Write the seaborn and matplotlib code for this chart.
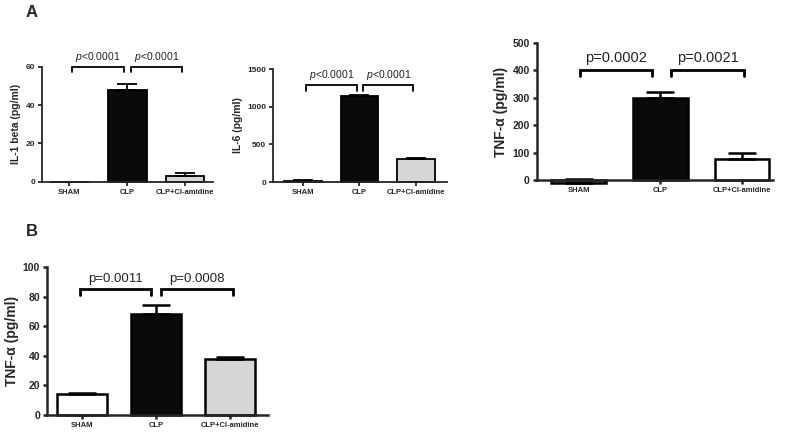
import numpy as np
import seaborn as sns
import matplotlib.pyplot as plt

# groups and values (mean + SEM)
groups = ["SHAM", "CLP", "CLP+Cl-amidine"]

il1_mean = [0, 48, 3]
il1_sem = [0, 3, 1.7]

il6_mean = [20, 1140, 305]
il6_sem = [10, 12, 15]

tnf_a_mean = [-12, 300, 78]
tnf_a_sem = [14, 22, 19]

tnf_b_mean = [14, 68, 38]
tnf_b_sem = [1, 6, 1]

p_il1 = ["<0.0001", "<0.0001"]
p_il6 = ["<0.0001", "<0.0001"]
p_tnf_a = ["p=0.0002", "p=0.0021"]
p_tnf_b = ["p=0.0011", "p=0.0008"]

sns.set_style("ticks")
plt.rcParams['font.family'] = ['Liberation Sans', 'DejaVu Sans']
plt.rcParams['mathtext.fontset'] = 'custom'
plt.rcParams['mathtext.it'] = 'Liberation Sans:italic'
plt.rcParams['mathtext.rm'] = 'Liberation Sans'

fig = plt.figure(figsize=(7.87, 4.37), dpi=100)


def panel(rect, mean, sem, colors, ylim, yticks, xlim, ylabel, lw, tick_fs, xtick_fs, lab_fs, cap):
    ax = fig.add_axes(rect)
    sns.barplot(x=groups, y=mean, hue=groups, palette=colors, legend=False,
                errorbar=None, edgecolor="black", linewidth=lw, width=0.67, ax=ax)
    for p in ax.patches:
        p.set_clip_on(False)
    ax.errorbar(range(3), mean, yerr=[np.zeros(3), sem], fmt="none", ecolor="black",
                elinewidth=lw, capsize=cap, capthick=lw, clip_on=False)
    ax.set_ylim(ylim)
    ax.set_yticks(yticks)
    ax.set_xlim(xlim)
    ax.set_ylabel(ylabel, fontsize=lab_fs, fontweight="bold", labelpad=3)
    ax.set_xlabel("")
    sns.despine(ax=ax)
    for s in ["left", "bottom"]:
        ax.spines[s].set_linewidth(lw)
    ax.tick_params(axis="both", width=lw, length=3, pad=2)
    ax.tick_params(axis="y", labelsize=tick_fs)
    ax.tick_params(axis="x", labelsize=xtick_fs)
    for t in ax.get_xticklabels() + ax.get_yticklabels():
        t.set_fontweight("bold")
    return ax


def bracket(ax, x1, x2, ytop, ytip, text, ytext, fs, lw, color="#222222"):
    ax.plot([x1, x1, x2, x2], [ytip, ytop, ytop, ytip], color="black", lw=lw,
            clip_on=False, solid_joinstyle="miter")
    ax.text((x1 + x2) / 2, ytext, text, ha="center", va="bottom", fontsize=fs,
            color=color, clip_on=False)


black = "#0a0a0a"
gray = "#d6d6d6"

# IL-1 beta
ax1 = panel([0.0534, 0.5842, 0.217, 0.2625], il1_mean, il1_sem, ["white", black, gray],
            (0, 60), [0, 20, 40, 60], (-0.47, 2.48), "IL-1 beta (pg/ml)", 1.3, 6, 5.5, 7.5, 7)
bracket(ax1, 0.05, 0.95, 60, 57.3, "$p$" + p_il1[0], 61.5, 7.5, 1.3)
bracket(ax1, 1.07, 1.95, 60, 57.3, "$p$" + p_il1[1], 61.5, 7.5, 1.3)

# IL-6
ax2 = panel([0.347, 0.5835, 0.221, 0.2585], il6_mean, il6_sem, ["white", black, gray],
            (0, 1500), [0, 500, 1000, 1500], (-0.53, 2.55), "IL-6 (pg/ml)", 1.3, 6, 5.5, 7.5, 7)
bracket(ax2, 0.05, 0.95, 1288, 1215, "$p$" + p_il6[0], 1330, 7.5, 1.3)
bracket(ax2, 1.07, 1.95, 1288, 1215, "$p$" + p_il6[1], 1330, 7.5, 1.3)

# TNF-alpha (A)
ax3 = panel([0.682, 0.588, 0.300, 0.3136], tnf_a_mean, tnf_a_sem, ["#bdbdbd", black, "white"],
            (0, 500), [0, 100, 200, 300, 400, 500], (-0.515, 2.38), "TNF-α (pg/ml)",
            1.8, 7.5, 5.5, 10, 10)
ax3.patches[0].set_hatch("....")
ax3.patches[0].set_facecolor("#e0e0e0")
bracket(ax3, 0.01, 0.9, 400, 380, p_tnf_a[0], 418, 10.5, 2)
bracket(ax3, 1.13, 2.03, 400, 380, p_tnf_a[1], 418, 10.5, 2)

# TNF-alpha (B)
ax4 = panel([0.0597, 0.0503, 0.281, 0.3387], tnf_b_mean, tnf_b_sem, ["white", black, gray],
            (0, 100), [0, 20, 40, 60, 80, 100], (-0.47, 2.51), "TNF-α (pg/ml)",
            1.8, 7.5, 5.5, 10, 10)
bracket(ax4, -0.03, 0.93, 85, 81, p_tnf_b[0], 88, 9.5, 2)
bracket(ax4, 1.07, 2.03, 85, 81, p_tnf_b[1], 88, 9.5, 2)

fig.text(26 / 787, 1 - 17 / 437, "A", fontsize=12, fontweight="bold")
fig.text(26 / 787, 1 - 236 / 437, "B", fontsize=12, fontweight="bold")

fig.savefig("out.png", dpi=100)
